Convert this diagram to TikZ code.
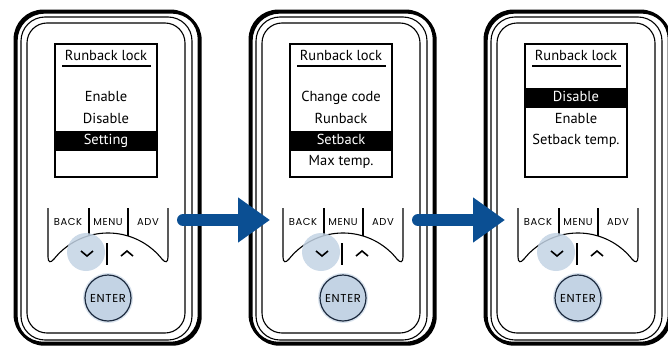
\documentclass[tikz,border=0pt]{standalone}
\usepackage{fontspec}
\setmainfont{PT Sans}
\newfontfamily\keyfont[LetterSpace=6]{Poppins}
\usetikzlibrary{arrows.meta}

\definecolor{arrowblue}{HTML}{0B4F93}
\definecolor{keyblue}{HTML}{C3D3E4}
\definecolor{keyhalo}{HTML}{D9E3EE}
\definecolor{keyedge}{HTML}{1C2A3E}

\begin{document}
\begin{tikzpicture}[x=1pt,y=-1pt,
  rim/.style={line width=1.1pt},
  item/.style={inner sep=0pt,text height=10pt,text depth=3pt,font=\fontsize{14.5}{16}\selectfont},
  sel/.style={item,text=white},
  keylabel/.style={inner sep=0pt,font=\keyfont\fontsize{10}{11}\selectfont},
  bigarrow/.style={arrowblue,line width=12pt,line cap=round,-{Triangle[width=43pt,length=32pt]}}]
\useasboundingbox (0,0) rectangle (668,345);
% the three handsets
\foreach \cx/\n in {106/1,341/2,576/3}{
  \draw[line width=2.8pt,rounded corners=28pt] (\cx-91,11) rectangle (\cx+93,343);
  \draw[line width=2.8pt,rounded corners=28pt,shift={(1.3,1.3)}] (\cx-91,11) rectangle (\cx+93,343);
  \draw[rim,rounded corners=24pt] (\cx-85,17) rectangle (\cx+86,340);
  \draw[rim,rounded corners=20pt] (\cx-79,23) rectangle (\cx+79,333);
  \node[draw,rim,minimum width=102pt,minimum height=133pt,inner sep=0pt] (screen\n) at (\cx,110.5) {};
  \node[item] (title\n) at (\cx,57) {Runback lock};
  \draw[rim] (\cx-44,66) -- (\cx+45,66);
  % keys
  \draw[rim] (\cx-58,208) -- (\cx-58,257) .. controls (\cx-58,263) and (\cx-55.1,262.9) .. (\cx-52,259)
    -- plot[domain=218.5:321.5,samples=40] ({\cx+2+69*cos(\x)},{302+69*sin(\x)})
    .. controls (\cx+59.1,262.9) and (\cx+62,263) .. (\cx+62,257) -- (\cx+62,208);
  \draw[rim] (\cx-17,208) -- (\cx-17,236);
  \draw[rim] (\cx+22,208) -- (\cx+22,236);
  \draw[rim] (\cx+1,243) -- (\cx+1,265);
  \fill[keyblue,fill opacity=.85] (\cx-20,252) circle[radius=19pt];
  \fill[keyhalo] (\cx+2,298) circle[radius=25pt];
  \node[circle,draw=keyedge,fill=keyblue,line width=1.2pt,minimum size=46pt,inner sep=0pt,keylabel,
    font=\keyfont\fontsize{11.5}{12}\selectfont] (enter\n) at (\cx+2,298) {ENTER};
  \draw[line width=1.6pt] (\cx-25,251) -- (\cx-19,256) -- (\cx-13,251);
  \draw[line width=1.6pt] (\cx+15,256) -- (\cx+21,251) -- (\cx+27,256);
  \node[keylabel] (back\n) at (\cx-38,222) {BACK};
  \node[keylabel] (menu\n) at (\cx+2,222) {MENU};
  \node[keylabel] (adv\n) at (\cx+42,222) {ADV};
  \coordinate (out\n) at (\cx+77,220);
  \coordinate (in\n) at (\cx-71,220);
}

% first screen
\node[item] (enable1) at (106,98) {Enable};
\node[item] (disable1) at (106,120) {Disable};
\fill (56,131) rectangle (156,151);
\node[sel] (setting1) at (106,141) {Setting};

% second screen
\node[item] (code2) at (341,98) {Change code};
\node[item] (runback2) at (341,120) {Runback};
\fill (291,131) rectangle (391,151);
\node[sel] (setback2) at (341,141) {Setback};
\node[item] (maxtemp2) at (341,162) {Max temp.};

% third screen
\fill (526,88) rectangle (626,108);
\node[sel] (disable3) at (576,98) {Disable};
\node[item] (enable3) at (576,120) {Enable};
\node[item] (setbacktemp3) at (576,141) {Setback temp.};

\draw[bigarrow] (out1) -- (in2);
\draw[bigarrow] (out2) -- (in3);
\end{tikzpicture}
\end{document}
